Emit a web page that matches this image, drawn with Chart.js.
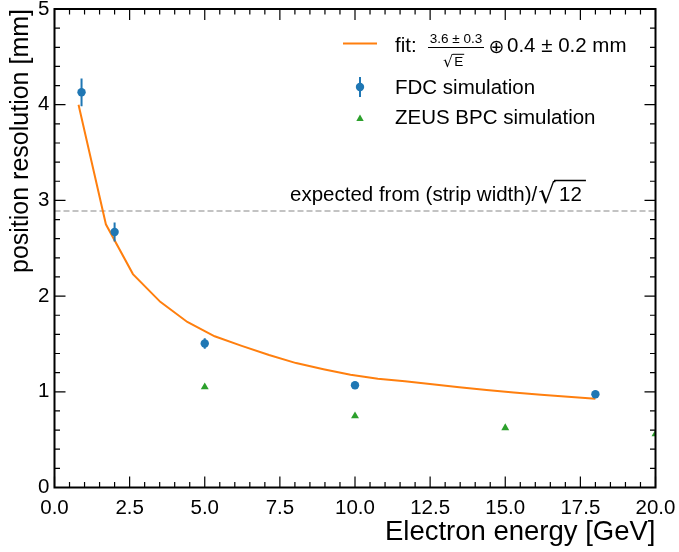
<!DOCTYPE html>
<html>
<head>
<meta charset="utf-8">
<script src="https://cdn.jsdelivr.net/npm/chart.js@4/dist/chart.umd.min.js"></script>
<style>
  html, body { margin: 0; padding: 0; background: #ffffff; }
  #wrap { width: 679px; height: 552px; }
</style>
</head>
<body>
<div id="wrap"><canvas id="c" width="679" height="552"></canvas></div>
<script>
// Resolution fit curve (sampled) : electron energy [GeV] -> position resolution [mm]
const fitEnergy = [0.80, 1.71, 2.61, 3.52, 4.42, 5.33, 6.23, 7.14, 8.04, 8.95,
                   9.85, 10.76, 11.66, 12.57, 13.47, 14.38, 15.28, 16.19, 17.09, 18.00];
const fitResolution = [4.00, 2.75, 2.23, 1.94, 1.73, 1.58, 1.48, 1.384, 1.30, 1.236,
                       1.178, 1.137, 1.11, 1.08, 1.047, 1.019, 0.993, 0.97, 0.948, 0.928];

// FDC simulation points with their uncertainties
const fdcEnergy = [0.9, 2.0, 5.0, 10.0, 18.0];
const fdcResolution = [4.13, 2.67, 1.505, 1.068, 0.974];
const fdcError = [0.145, 0.10, 0.055, 0.02, 0.015];

// ZEUS BPC simulation points
const zeusEnergy = [5, 10, 15, 20];
const zeusResolution = [1.05, 0.747, 0.622, 0.559];

// Expected resolution from (strip width)/sqrt(12)
const stripLimit = 2.89;

// Axis ticks
const xTickValues = [0, 2.5, 5, 7.5, 10, 12.5, 15, 17.5, 20];
const xTickLabels = ['0.0', '2.5', '5.0', '7.5', '10.0', '12.5', '15.0', '17.5', '20.0'];
const yTickValues = [0, 1, 2, 3, 4, 5];
const yTickLabels = ['0', '1', '2', '3', '4', '5'];
const xMinorStep = 0.5;
const yMinorStep = 0.2;

const FONT = '"Liberation Sans", Arial, Helvetica, sans-serif';
const BLUE = '#1f77b4', ORANGE = '#ff7f0e', GREEN = '#2ca02c';

function pts(xs, ys) { return xs.map((x, i) => ({ x: x, y: ys[i] })); }

// Error bars for the FDC points, drawn underneath the markers
const errorBars = {
  id: 'errorBars',
  beforeDatasetDraw(chart, args) {
    if (chart.data.datasets[args.index].label !== 'FDC simulation') return;
    const { ctx, scales: { x, y }, chartArea: a } = chart;
    ctx.save();
    ctx.beginPath();
    ctx.rect(a.left, a.top, a.right - a.left, a.bottom - a.top);
    ctx.clip();
    ctx.strokeStyle = BLUE;
    ctx.lineWidth = 2;
    fdcEnergy.forEach((e, i) => {
      const px = x.getPixelForValue(e);
      ctx.beginPath();
      ctx.moveTo(px, y.getPixelForValue(fdcResolution[i] - fdcError[i]));
      ctx.lineTo(px, y.getPixelForValue(fdcResolution[i] + fdcError[i]));
      ctx.stroke();
    });
    ctx.restore();
  }
};

// Frame with inward major/minor ticks on all four sides
const frameTicks = {
  id: 'frameTicks',
  afterDraw(chart) {
    const { ctx, scales: { x, y }, chartArea: a } = chart;
    const MAJ = 11, MIN = 5.5;
    ctx.save();
    ctx.strokeStyle = '#000';
    ctx.lineWidth = 1.2;
    ctx.beginPath();
    for (let v = x.min; v <= x.max + 1e-9; v += xMinorStep) {
      const px = x.getPixelForValue(v);
      const isMajor = xTickValues.some(t => Math.abs(t - v) < 1e-6);
      const L = isMajor ? MAJ : MIN;
      ctx.moveTo(px, a.bottom); ctx.lineTo(px, a.bottom - L);
      ctx.moveTo(px, a.top); ctx.lineTo(px, a.top + L);
    }
    for (let v = y.min; v <= y.max + 1e-9; v += yMinorStep) {
      const py = y.getPixelForValue(v);
      const isMajor = yTickValues.some(t => Math.abs(t - v) < 1e-6);
      const L = isMajor ? MAJ : MIN;
      ctx.moveTo(a.left, py); ctx.lineTo(a.left + L, py);
      ctx.moveTo(a.right, py); ctx.lineTo(a.right - L, py);
    }
    ctx.stroke();
    ctx.lineWidth = 2;
    ctx.strokeRect(a.left, a.top, a.right - a.left, a.bottom - a.top);
    ctx.restore();
  }
};

// Legend (with the fit formula) and the strip-width annotation
const legendAndNotes = {
  id: 'legendAndNotes',
  afterDraw(chart) {
    const { ctx, scales: { x, y } } = chart;
    ctx.save();
    ctx.fillStyle = '#000';
    ctx.textBaseline = 'alphabetic';
    ctx.textAlign = 'left';

    // annotation above the dashed line
    const ly = y.getPixelForValue(stripLimit);
    const base = ly - 10;
    ctx.font = '20.5px ' + FONT;
    const txt = 'expected from (strip width)/';
    ctx.fillText(txt, 290, base);
    let cx = 290 + ctx.measureText(txt).width + 1;
    ctx.font = '27px "DejaVu Sans"';
    ctx.fillText('\u221A', cx, base + 2);
    cx += ctx.measureText('\u221A').width;
    ctx.font = '20.5px ' + FONT;
    const w12 = ctx.measureText(' 12').width;
    ctx.fillText(' 12', cx - 2, base);
    ctx.lineWidth = 1.5;
    ctx.beginPath();
    ctx.moveTo(cx - 1.5, base - 20.5);
    ctx.lineTo(cx + w12 + 2, base - 20.5);
    ctx.stroke();

    // legend: fit line
    ctx.strokeStyle = ORANGE;
    ctx.lineWidth = 2;
    ctx.beginPath();
    ctx.moveTo(343, 43.5); ctx.lineTo(377, 43.5);
    ctx.stroke();
    ctx.fillStyle = '#000';
    ctx.font = '20.5px ' + FONT;
    ctx.fillText('fit:', 395, 51.7);
    // fraction
    ctx.font = '13.5px ' + FONT;
    ctx.textAlign = 'center';
    ctx.fillText('3.6 \u00B1 0.3', 456, 43.3);
    ctx.strokeStyle = '#000';
    ctx.lineWidth = 1.2;
    ctx.beginPath();
    ctx.moveTo(428, 47.5); ctx.lineTo(484, 47.5);
    ctx.stroke();
    ctx.textAlign = 'left';
    ctx.font = '16px "DejaVu Sans"';
    const wr = ctx.measureText('\u221A').width;
    ctx.fillText('\u221A', 443, 67);
    ctx.font = '13.5px ' + FONT;
    const we = ctx.measureText('E').width;
    ctx.fillText('E', 443 + wr + 1, 66);
    ctx.lineWidth = 1;
    ctx.beginPath();
    ctx.moveTo(443 + wr - 0.5, 54.3); ctx.lineTo(443 + wr + we + 2, 54.3);
    ctx.stroke();
    ctx.font = '19px "DejaVu Sans"';
    ctx.fillText('\u2295', 488.5, 52.5);
    ctx.font = '20.5px ' + FONT;
    ctx.fillText('0.4 \u00B1 0.2 mm', 507, 51.7);

    // legend: FDC marker with error bar
    ctx.strokeStyle = BLUE;
    ctx.fillStyle = BLUE;
    ctx.lineWidth = 2;
    ctx.beginPath();
    ctx.moveTo(360, 77); ctx.lineTo(360, 97);
    ctx.stroke();
    ctx.beginPath();
    ctx.arc(360, 87, 4.2, 0, Math.PI * 2);
    ctx.fill();
    ctx.fillStyle = '#000';
    ctx.fillText('FDC simulation', 395, 94);

    // legend: ZEUS marker
    ctx.fillStyle = GREEN;
    ctx.beginPath();
    ctx.moveTo(360, 114.5); ctx.lineTo(363.7, 121); ctx.lineTo(356.3, 121);
    ctx.closePath();
    ctx.fill();
    ctx.fillStyle = '#000';
    ctx.fillText('ZEUS BPC simulation', 395, 124.3);
    ctx.restore();
  }
};

new Chart(document.getElementById('c'), {
  type: 'scatter',
  data: {
    datasets: [
      {
        label: 'expected', order: 4,
        data: [{ x: 0, y: stripLimit }, { x: 20, y: stripLimit }],
        showLine: true, borderColor: '#b0b0b0', borderWidth: 1.5, borderDash: [6, 3],
        pointRadius: 0
      },
      {
        label: 'fit', order: 3,
        data: pts(fitEnergy, fitResolution),
        showLine: true, borderColor: ORANGE, borderWidth: 2, pointRadius: 0, tension: 0
      },
      {
        label: 'FDC simulation', order: 2,
        data: pts(fdcEnergy, fdcResolution),
        pointStyle: 'circle', pointRadius: 4.2, backgroundColor: BLUE, borderColor: BLUE, borderWidth: 0
      },
      {
        label: 'ZEUS BPC simulation', order: 1,
        data: pts(zeusEnergy, zeusResolution),
        pointStyle: 'triangle', pointRadius: 4.6, backgroundColor: GREEN, borderColor: GREEN, borderWidth: 0
      }
    ]
  },
  options: {
    responsive: false,
    animation: false,
    devicePixelRatio: 1,
    layout: { padding: { top: 9, right: 23.5, left: 0, bottom: 0 } },
    plugins: { legend: { display: false }, tooltip: { enabled: false } },
    scales: {
      x: {
        type: 'linear', min: 0, max: 20,
        afterBuildTicks(s) { s.ticks = xTickValues.map(v => ({ value: v })); },
        afterFit(s) { s.height = 64.5; s.paddingLeft = 0; s.paddingRight = 0; },
        ticks: {
          autoSkip: false, maxRotation: 0, minRotation: 0, padding: 9, color: '#000',
          font: { family: FONT, size: 20.5 },
          callback: (v, i) => xTickLabels[i]
        },
        grid: { display: false, drawTicks: false },
        border: { display: false },
        title: {
          display: true, text: 'Electron energy [GeV]', align: 'end', color: '#000',
          font: { family: FONT, size: 27.5 }, padding: { top: 0, bottom: 3.5 }
        }
      },
      y: {
        type: 'linear', min: 0, max: 5,
        afterBuildTicks(s) { s.ticks = yTickValues.map(v => ({ value: v })); },
        afterFit(s) { s.width = 54.5; s.paddingTop = 0; s.paddingBottom = 0; },
        ticks: {
          autoSkip: false, padding: 5, color: '#000',
          font: { family: FONT, size: 20.5 },
          callback: (v, i) => yTickLabels[i]
        },
        grid: { display: false, drawTicks: false },
        border: { display: false },
        title: {
          display: true, text: 'position resolution [mm]', align: 'end', color: '#000',
          font: { family: FONT, size: 25 }, padding: { top: 6.5, bottom: 0 }
        }
      }
    }
  },
  plugins: [errorBars, frameTicks, legendAndNotes]
});
</script>
</body>
</html>
